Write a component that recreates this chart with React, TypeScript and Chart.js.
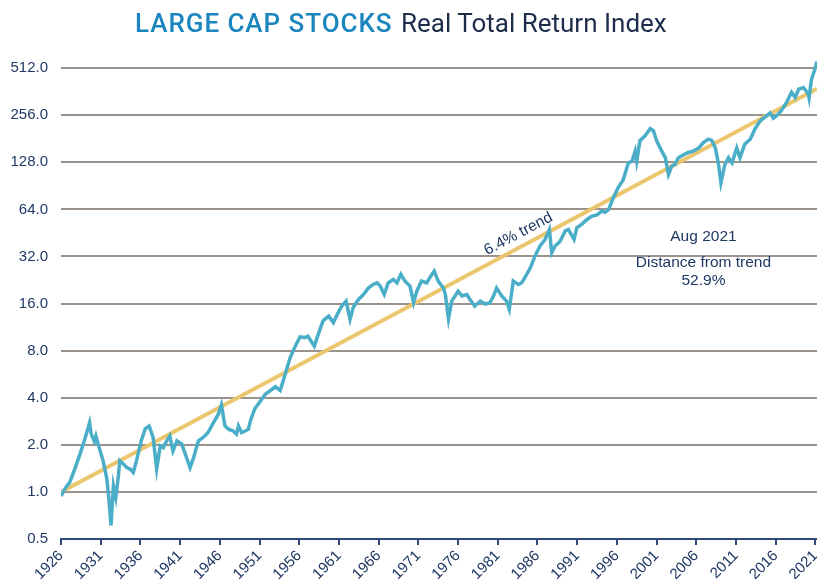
import React, { useEffect, useRef } from "react";
import { Chart, registerables } from "chart.js";

Chart.register(...registerables);

// ---- Data ----
const years: number[] = [
  1926.0, 1926.5, 1927.1, 1927.8, 1928.4, 1929.0, 1929.6, 1929.8, 1930.2, 1930.4,
  1930.8, 1931.3, 1931.75, 1932.0, 1932.3, 1932.6, 1932.9, 1933.2, 1933.4, 1933.85,
  1934.3, 1934.7, 1935.1, 1935.5, 1936.1, 1936.6, 1937.1, 1937.6, 1938.05, 1938.5,
  1938.9, 1939.3, 1939.7, 1940.1, 1940.6, 1941.2, 1941.8, 1942.25, 1942.7, 1943.3,
  1943.9, 1944.5, 1945.2, 1945.8, 1946.2, 1946.65, 1947.1, 1947.7, 1948.1, 1948.35,
  1948.75, 1949.2, 1949.6, 1949.9, 1950.4, 1951.1, 1951.7, 1952.5, 1953.0, 1953.6,
  1954.2, 1954.85, 1955.5, 1956.1, 1956.7, 1957.1, 1957.9, 1958.4, 1959.0, 1959.7,
  1960.3, 1960.9, 1961.35, 1961.9, 1962.4, 1962.8, 1963.45, 1964.1, 1964.7, 1965.3,
  1965.8, 1966.2, 1966.7, 1967.2, 1967.85, 1968.3, 1968.8, 1969.3, 1969.95, 1970.4,
  1970.8, 1971.4, 1972.05, 1972.7, 1973.0, 1973.5, 1974.15, 1974.4, 1974.8, 1975.2,
  1975.6, 1976.0, 1976.5, 1977.1, 1977.5, 1978.1, 1978.8, 1979.4, 1980.0, 1980.45,
  1980.85, 1981.5, 1982.1, 1982.45, 1982.95, 1983.6, 1984.0, 1984.4, 1985.1, 1985.7,
  1986.3, 1986.95, 1987.5, 1987.8, 1988.2, 1988.85, 1989.5, 1989.9, 1990.6, 1990.95,
  1991.6, 1992.2, 1992.8, 1993.5, 1994.1, 1994.5, 1994.95, 1995.55, 1996.2, 1996.8,
  1997.45, 1997.9, 1998.3, 1998.5, 1998.9, 1999.55, 2000.2, 2000.6, 2001.0, 2001.65,
  2002.1, 2002.5, 2002.9, 2003.3, 2003.75, 2004.4, 2005.0, 2005.6, 2006.3, 2006.9,
  2007.5, 2007.95, 2008.4, 2008.8, 2009.1, 2009.6, 2010.05, 2010.5, 2011.1, 2011.5,
  2012.1, 2012.8, 2013.4, 2014.05, 2014.7, 2015.3, 2015.7, 2016.1, 2016.75, 2017.4,
  2018.0, 2018.45, 2018.9, 2019.5, 2020.1, 2020.2, 2020.5, 2020.95, 2021.2,
];

const realIndex: number[] = [
  0.94, 1.05, 1.15, 1.43, 1.75, 2.18, 2.77, 2.35, 2.1, 2.28,
  1.92, 1.58, 1.23, 0.94, 0.61, 1.09, 0.92, 1.23, 1.58, 1.51,
  1.43, 1.4, 1.33, 1.58, 2.12, 2.53, 2.64, 2.23, 1.4, 1.97,
  1.92, 2.12, 2.28, 1.83, 2.12, 2.03, 1.66, 1.43, 1.66, 2.12,
  2.23, 2.39, 2.77, 3.13, 3.6, 2.64, 2.52, 2.45, 2.34, 2.64,
  2.39, 2.45, 2.52, 2.9, 3.4, 3.8, 4.2, 4.5, 4.7, 4.45,
  5.6, 7.2, 8.55, 9.8, 9.7, 9.9, 8.55, 10.2, 12.4, 13.3,
  12.1, 14.0, 15.4, 16.6, 12.7, 15.1, 17.0, 18.3, 20.1, 21.2,
  21.7, 20.7, 18.3, 21.7, 22.8, 21.7, 24.6, 22.3, 20.7, 16.2,
  19.2, 22.3, 21.7, 24.6, 25.8, 22.3, 20.1, 18.3, 12.8, 16.6,
  17.8, 19.2, 17.9, 18.3, 17.0, 15.4, 16.6, 15.9, 16.2, 17.8,
  20.1, 17.9, 16.6, 14.7, 22.3, 21.2, 21.7, 23.4, 27.1, 32.3,
  37.2, 41.1, 47.6, 33.9, 37.2, 40.1, 46.6, 47.6, 41.1, 48.8,
  51.6, 55.0, 57.8, 59.1, 62.5, 61.3, 63.8, 76, 89, 99,
  127, 130, 151, 130, 176, 189, 210, 204, 176, 151,
  137, 107, 121, 124, 137, 143, 148, 151, 158, 171,
  180, 177, 158, 124, 95, 124, 137, 127, 158, 137,
  167, 180, 210, 236, 250, 265, 245, 253, 276, 312,
  359, 333, 376, 385, 350, 330, 433, 507, 565,
];

const trendYears: number[] = [1926, 2021.2];
const trendValues: number[] = [1.0, 378];

const yTickValues: number[] = [0.5, 1, 2, 4, 8, 16, 32, 64, 128, 256, 512];
const xTickYears: number[] = [
  1926, 1931, 1936, 1941, 1946, 1951, 1956, 1961, 1966, 1971,
  1976, 1981, 1986, 1991, 1996, 2001, 2006, 2011, 2016, 2021,
];

const trendLabel = { text: "6.4% trend", year: 1983.6, value: 44.6 };
const noteYear = 2006.9;
const noteLines: { text: string; value: number }[] = [
  { text: "Aug 2021", value: 40.2 },
  { text: "Distance from trend", value: 27.5 },
  { text: "52.9%", value: 21.0 },
];

const NAVY = "#1f3864";
const FONT = '"Liberation Sans", Arial, sans-serif';

const annotationPlugin = {
  id: "annotations",
  afterDatasetsDraw(chart: any) {
    const { ctx } = chart;
    const xs = chart.scales.x;
    const ys = chart.scales.y;
    ctx.save();
    ctx.fillStyle = NAVY;
    ctx.font = `15.5px ${FONT}`;
    const x0 = xs.getPixelForValue(trendYears[0]);
    const y0 = ys.getPixelForValue(trendValues[0]);
    const x1 = xs.getPixelForValue(trendYears[1]);
    const y1 = ys.getPixelForValue(trendValues[1]);
    const ang = Math.atan2(y1 - y0, x1 - x0);
    ctx.save();
    ctx.translate(xs.getPixelForValue(trendLabel.year), ys.getPixelForValue(trendLabel.value));
    ctx.rotate(ang);
    ctx.textAlign = "center";
    ctx.textBaseline = "middle";
    ctx.fillText(trendLabel.text, 0, 0);
    ctx.restore();
    ctx.textAlign = "center";
    ctx.textBaseline = "alphabetic";
    const nx = xs.getPixelForValue(noteYear);
    noteLines.forEach((l) => {
      ctx.fillText(l.text, nx, ys.getPixelForValue(l.value));
    });
    ctx.restore();
  },
};

export default function App() {
  const ref = useRef<HTMLCanvasElement | null>(null);

  useEffect(() => {
    if (!ref.current) return;
    const chart = new Chart(ref.current, {
      type: "line",
      data: {
        datasets: [
          {
            label: "Trend",
            data: trendYears.map((x, i) => ({ x, y: trendValues[i] })),
            borderColor: "#ebc66e",
            borderWidth: 4,
            pointRadius: 0,
            tension: 0,
            order: 2,
          },
          {
            label: "Large Cap Stocks",
            data: years.map((x, i) => ({ x, y: realIndex[i] })),
            borderColor: "#4aaec8",
            borderWidth: 3.5,
            pointRadius: 0,
            tension: 0,
            order: 1,
          },
        ],
      },
      options: {
        animation: false,
        responsive: false,
        maintainAspectRatio: false,
        devicePixelRatio: 1,
        layout: { padding: { top: 45, left: 0, right: 0, bottom: 0 } },
        plugins: {
          legend: { display: false },
          tooltip: { enabled: false },
          title: { display: false },
        },
        scales: {
          x: {
            type: "linear",
            min: 1926,
            max: 2021.2,
            afterBuildTicks: (s: any) => {
              s.ticks = xTickYears.map((v) => ({ value: v }));
            },
            afterFit: (s: any) => {
              s.height = 43;
              s.paddingRight = 0;
              s.paddingLeft = 0;
            },
            ticks: {
              autoSkip: false,
              minRotation: 45,
              maxRotation: 45,
              padding: 2,
              color: NAVY,
              font: { size: 15, family: FONT },
              callback: (v: any) => String(v),
            },
            grid: {
              drawOnChartArea: false,
              drawTicks: true,
              tickLength: 6,
              color: "#2f4a78",
              lineWidth: 2,
            },
            border: { display: true, color: "#2f4a78", width: 2 },
          },
          y: {
            type: "logarithmic",
            min: 0.5,
            max: 720,
            afterBuildTicks: (s: any) => {
              s.ticks = yTickValues.map((v) => ({ value: v }));
            },
            afterFit: (s: any) => {
              s.width = 61;
            },
            ticks: {
              autoSkip: false,
              padding: 13,
              color: NAVY,
              font: { size: 15, family: FONT },
              callback: (v: any) => Number(v).toFixed(1),
            },
            grid: {
              drawTicks: false,
              color: (c: any) => (c.tick && c.tick.value === 0.5 ? "rgba(0,0,0,0)" : "#9c928c"),
              lineWidth: 2,
            },
            border: { display: false },
          },
        },
      },
      plugins: [annotationPlugin],
    });
    return () => chart.destroy();
  }, []);

  return (
    <div style={{ position: "absolute", left: 0, top: 0, width: 817, height: 582, background: "#fff" }}>
      <canvas ref={ref} width={817} height={582} style={{ display: "block" }} />
      <div
        style={{
          position: "absolute",
          left: 135,
          top: 8,
          fontFamily: "Roboto, 'Liberation Sans', sans-serif",
          fontSize: 26,
          lineHeight: "30px",
          whiteSpace: "nowrap",
          color: "#1a86bd",
          fontWeight: 500,
          letterSpacing: "0.95px",
        }}
      >
        LARGE CAP STOCKS
      </div>
      <div
        style={{
          position: "absolute",
          left: 401,
          top: 8,
          fontFamily: "Roboto, 'Liberation Sans', sans-serif",
          fontSize: 26,
          lineHeight: "30px",
          whiteSpace: "nowrap",
          color: "#1e2c4c",
          fontWeight: 400,
        }}
      >
        Real Total Return Index
      </div>
    </div>
  );
}
